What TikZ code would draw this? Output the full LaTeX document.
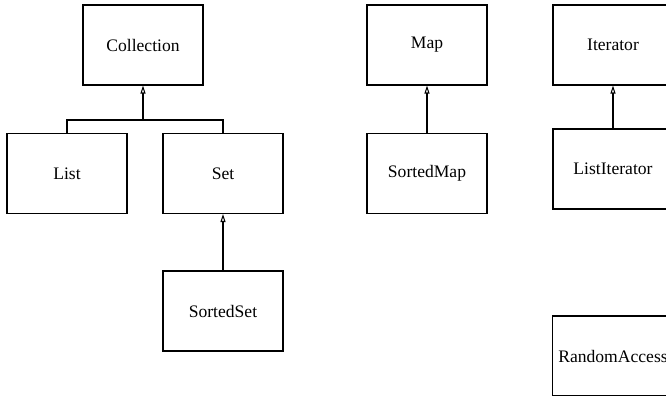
\documentclass[tikz,border=0pt]{standalone}
\usepackage{fontspec}
\setmainfont{Liberation Serif}
\usetikzlibrary{arrows.meta}

\begin{document}
\begin{tikzpicture}[class node/.style={rectangle,draw,line width=0.6pt,minimum width=2.4cm,minimum height=1.6cm,font=\fontsize{10}{12}\selectfont},
  inherits/.style={-{Triangle[open,length=1.6mm,width=1mm]},line width=0.6pt}]
  \useasboundingbox (0,0) rectangle (13.32,-7.9);
  \clip (0,0) rectangle (13.32,-7.9);

  \node[class node] (collection) at (2.86,-0.9) {Collection};
  \node[class node] (list) at (1.34,-3.47) {List};
  \node[class node] (set) at (4.46,-3.47) {Set};
  \node[class node] (sortedset) at (4.46,-6.22) {SortedSet};

  \node[class node] (map) at (8.54,-0.9) {Map};
  \node[class node] (sortedmap) at (8.54,-3.47) {SortedMap};

  \node[class node] (iterator) at (12.26,-0.9) {Iterator};
  \node[class node] (listiterator) at (12.26,-3.38) {ListIterator};

  \node[class node] (randomaccess) at (12.26,-7.12) {RandomAccess};

  % List and Set share one line up to Collection
  \coordinate (join) at (2.86,-2.4);
  \draw[line width=0.6pt] (list.north) |- (join) -| (set.north);
  \path (join) [inherits] edge (collection.south);

  \path (sortedset) [inherits] edge (set);
  \path (sortedmap) [inherits] edge (map);
  \path (listiterator) [inherits] edge (iterator);
\end{tikzpicture}
\end{document}
